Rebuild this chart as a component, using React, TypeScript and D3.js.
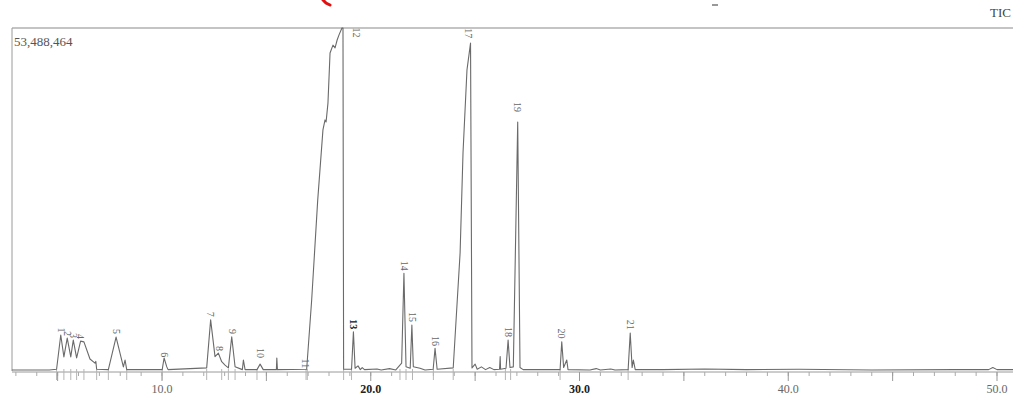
import { useEffect } from 'react';
import * as d3 from 'd3';

// TIC chromatogram: [retention time (min), % of full scale]
const tracePoints: [number, number][] = [
    [2.81, 0.3], [4.6, 0.3], [4.95, 0.5], [5.15, 10.5], [5.3, 4.1], [5.46, 9.6], [5.63, 4.1],
    [5.75, 9.0], [5.91, 3.8], [6.1, 8.7], [6.26, 8.5], [6.55, 3.5], [6.79, 2.3], [6.83, 2.8],
    [6.87, 0.5], [7.43, 0.4], [7.8, 9.9], [8.15, 1.2], [8.23, 3.2], [8.31, 0.4],
    [10.01, 0.4], [10.1, 3.8], [10.23, 1.2], [10.29, 0.4],
    [12.14, 0.9], [12.33, 14.9], [12.54, 4.2], [12.7, 5.2], [12.86, 2.7], [13.02, 1.7],
    [13.18, 0.9], [13.34, 10.0], [13.5, 1.25], [13.85, 0.4], [13.9, 3.2], [13.98, 0.4],
    [14.55, 0.4], [14.7, 2.0], [14.85, 0.4], [15.48, 0.4], [15.5, 3.8], [15.53, 0.4],
    [16.93, 0.5], [17.17, 20.7], [17.46, 49.9], [17.71, 70.3], [17.81, 73.2], [17.86, 72.6],
    [17.95, 78.1], [18.05, 92.7], [18.19, 95.0], [18.29, 94.2], [18.39, 96.5], [18.48, 98.0],
    [18.62, 100], [18.67, 100], [18.7, 0.5],
    [19.08, 0.5], [19.17, 11.4], [19.25, 0.8], [19.39, 1.5], [19.5, 0.4], [19.59, 1.0], [19.7, 0.4],
    [20.3, 0.6], [20.5, 0.3], [20.9, 0.7], [21.2, 0.3],
    [21.48, 2.3], [21.59, 28.5], [21.69, 1.25], [21.89, 0.8], [21.97, 13.4], [22.04, 1.25],
    [22.36, 0.8], [22.6, 0.3], [22.99, 0.5], [23.08, 6.6], [23.18, 0.5],
    [23.95, 0.9], [24.28, 34.4], [24.42, 63.6], [24.61, 87.8], [24.78, 95.6], [24.85, 0.9],
    [25.0, 2.0], [25.1, 0.5], [25.3, 1.2], [25.5, 0.4], [25.7, 1.0], [25.9, 0.4],
    [26.17, 0.5], [26.2, 4.2], [26.22, 0.5], [26.48, 0.8], [26.58, 9.0], [26.67, 1.0],
    [26.83, 1.2], [27.04, 72.6], [27.15, 1.0], [27.3, 0.4],
    [29.07, 0.4], [29.15, 8.5], [29.24, 1.0], [29.39, 3.2], [29.45, 0.4],
    [30.5, 0.3], [30.8, 0.7], [31.0, 0.3], [31.5, 0.6], [31.7, 0.3],
    [32.33, 0.4], [32.43, 11.1], [32.52, 1.0], [32.58, 3.2], [32.67, 0.4],
    [34.0, 0.4], [36.0, 0.6], [38.0, 0.4], [40.5, 0.5], [44.0, 0.3], [48.0, 0.4],
    [49.6, 0.4], [49.8, 1.0], [50.0, 0.4], [50.78, 0.4],
];

// peak numbers: label x (min) and where the rotated label ends (% of scale)
const peakIds = ['1', '2', '3', '4', '5', '6', '7', '8', '9', '10', '11', '12', '13', '14', '15', '16', '17', '18', '19', '20', '21'];
const peakLabelRt = [5.17, 5.45, 5.74, 6.1, 7.83, 10.1, 12.33, 12.74, 13.36, 14.7, 16.88, 19.3, 19.17, 21.6, 22.0, 23.1, 24.7, 26.58, 27.05, 29.15, 32.45];
const peakLabelEnd = [11.2, 10.2, 9.6, 9.3, 10.8, 4.0, 15.8, 5.8, 10.8, 3.8, 0.8, 97.2, 12.2, 29.2, 14.3, 7.3, 97.0, 9.9, 75.5, 9.5, 12.0];
const boldLabels = ['13'];

// integration marks under the baseline (min)
const markTimes = [4.95, 5.3, 5.63, 5.91, 6.26, 6.87, 7.43, 8.31, 10.01, 12.14, 12.86, 13.18, 13.5, 14.55, 16.9, 16.96, 18.7, 19.08, 21.4, 21.69, 22.0, 23.0, 23.95, 26.45, 26.7, 29.07, 32.33];

const xTickLabels = ['10.0', '20.0', '30.0', '40.0', '50.0'];
const xTickValues = [10, 20, 30, 40, 50];
const fullScaleLabel = '53,488,464';
const traceName = 'TIC';

const W = 1013;
const H = 396;
const LEFT = 12;
const TOP = 28;
const BASE = 371;

export default function App() {
    useEffect(() => {
        document.body.style.margin = '0';
    }, []);

    const x = d3.scaleLinear().domain([10, 50]).range([162, 997]);
    const y = d3.scaleLinear().domain([0, 100]).range([BASE, TOP]);

    const line = d3.line<[number, number]>()
        .x(d => x(d[0]))
        .y(d => y(Math.min(d[1], 100)));

    const minorTicks = d3.range(3, 51);
    const fiveTicks = minorTicks.filter(t => t % 5 === 0);

    const serif = "'Liberation Serif', 'DejaVu Serif', serif";

    return (
        <svg width={W} height={H} style={{ display: 'block', background: '#fff' }}>
            {/* red pen mark and stray dash from the scan */}
            <path d="M323,0 L326,3 L330,5" stroke="#e01010" strokeWidth={3} fill="none" strokeLinecap="round" />
            <line x1={712} x2={718} y1={5} y2={5} stroke="#555" strokeWidth={1.2} />

            {/* frame */}
            <line x1={LEFT} x2={W} y1={TOP} y2={TOP} stroke="#8a8a8a" strokeWidth={1.2} />
            <line x1={LEFT} x2={LEFT} y1={TOP} y2={BASE} stroke="#9a9a9a" strokeWidth={1} />
            <text x={14} y={46} fontFamily={serif} fontSize={13} fill="#555">{fullScaleLabel}</text>
            <text x={1011} y={17} textAnchor="end" fontFamily={serif} fontSize={13} fill="#444">{traceName}</text>

            {/* axis */}
            <line x1={LEFT} x2={W} y1={BASE + 1} y2={BASE + 1} stroke="#9a9a9a" strokeWidth={1} />
            {minorTicks.map(t => (
                <line key={'m' + t} x1={x(t)} x2={x(t)} y1={BASE + 1} y2={BASE + 5} stroke="#aaa" strokeWidth={1} />
            ))}
            {fiveTicks.map(t => (
                <line key={'f' + t} x1={x(t)} x2={x(t)} y1={BASE + 1} y2={BASE + 10} stroke="#999" strokeWidth={1} />
            ))}
            {xTickValues.map((t, i) => (
                <text key={'l' + t} x={x(t)} y={393} textAnchor="middle" fontFamily={serif} fontSize={12}
                    fill={t === 20 || t === 30 ? '#222' : '#666'} fontWeight={t === 20 || t === 30 ? 'bold' : 'normal'}>
                    {xTickLabels[i]}
                </text>
            ))}
            {markTimes.map((t, i) => (
                <line key={'k' + i} x1={x(t)} x2={x(t)} y1={BASE - 2} y2={BASE + 9} stroke="#b5b5b5" strokeWidth={1} />
            ))}

            {/* trace */}
            <path d={line(tracePoints) || ''} fill="none" stroke="#6a6a6a" strokeWidth={1.1} strokeLinejoin="round" />

            {/* peak labels */}
            {peakIds.map((id, i) => {
                const px = x(peakLabelRt[i]);
                const py = y(peakLabelEnd[i]);
                const bold = boldLabels.includes(id);
                return (
                    <text key={'p' + id} transform={`translate(${px},${py}) rotate(90)`}
                        textAnchor="end" dominantBaseline="central"
                        fontFamily={serif} fontSize={10}
                        fill={bold ? '#111' : '#666'} fontWeight={bold ? 'bold' : 'normal'}>
                        {id}
                    </text>
                );
            })}
        </svg>
    );
}
